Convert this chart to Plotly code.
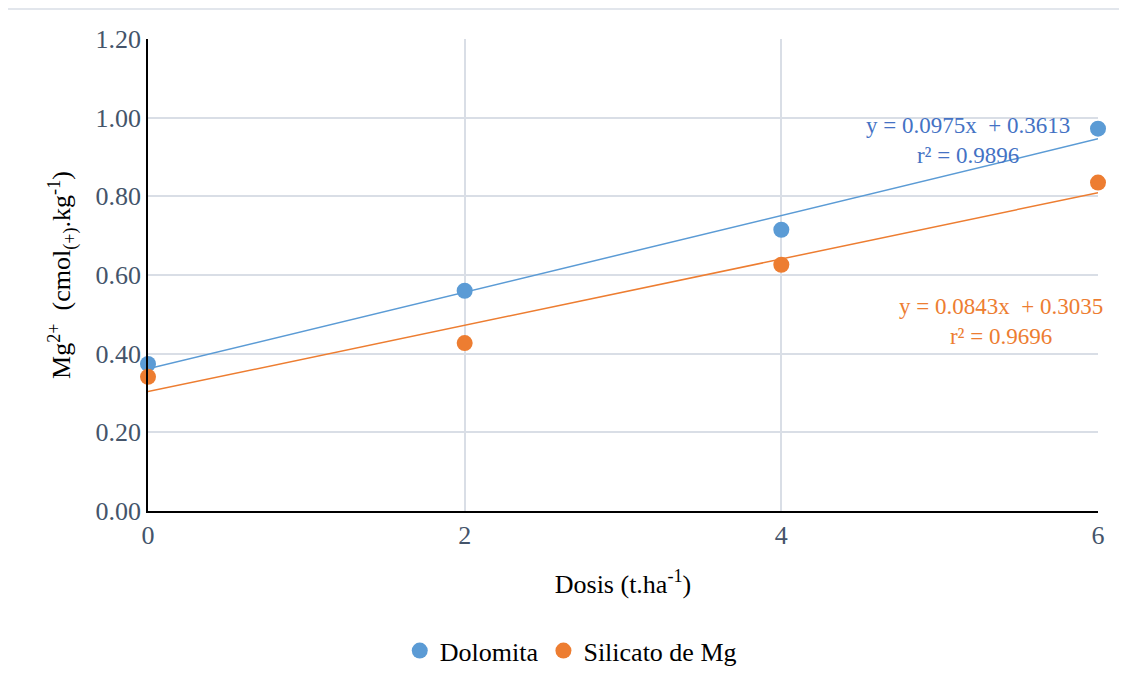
import plotly.graph_objects as go
import numpy as np

doses = [0, 2, 4, 6]
dolomita = [0.374, 0.560, 0.715, 0.972]
silicato = [0.341, 0.427, 0.626, 0.835]
series_names = ["Dolomita", "Silicato de Mg"]
slopes = [0.0975, 0.0843]
intercepts = [0.3613, 0.3035]
r2_values = [0.9896, 0.9696]
y_ticks = [0.0, 0.2, 0.4, 0.6, 0.8, 1.0, 1.2]
x_ticks = [0, 2, 4, 6]

colors = ["#5b9bd5", "#ed7d31"]
text_colors = ["#4472c4", "#ed7d31"]
font_family = "Liberation Serif"

fig = go.Figure()
for name, vals, col, m, b in zip(series_names, [dolomita, silicato], colors, slopes, intercepts):
    xs = np.array([doses[0], doses[-1]], dtype=float)
    fig.add_trace(go.Scatter(x=xs, y=m * xs + b, mode="lines",
                             line=dict(color=col, width=1.5), showlegend=False, hoverinfo="skip"))
for name, vals, col in zip(series_names, [dolomita, silicato], colors):
    fig.add_trace(go.Scatter(x=doses, y=vals, mode="markers", name=name,
                             marker=dict(color=col, size=16), cliponaxis=False))

# equation annotations
ann_pos = [(5.18, 0.941), (5.39, 0.483)]
for i in range(2):
    ax, ay = ann_pos[i]
    fig.add_annotation(x=ax, y=ay, xref="x", yref="y", xanchor="center", yanchor="middle",
                       text=f"y = {slopes[i]:.4f}x  + {intercepts[i]:.4f}<br>r² = {r2_values[i]:.4f}",
                       showarrow=False, align="center",
                       font=dict(color=text_colors[i], size=23, family=font_family))

fig.update_layout(
    width=1127, height=684,
    paper_bgcolor="white", plot_bgcolor="white",
    margin=dict(l=140, r=37, t=31, b=181, autoexpand=False),
    font=dict(family=font_family, size=26, color="#44546a"),
    showlegend=True,
    legend=dict(orientation="h", x=0.445, xanchor="center", y=-0.296, yanchor="middle",
                font=dict(size=26, color="black", family=font_family),
                itemsizing="trace", tracegroupgap=0, itemwidth=30),
    xaxis=dict(range=[0, 6], tickvals=x_ticks, ticktext=[str(v) for v in x_ticks],
               showgrid=True, gridcolor="#d9dee6", gridwidth=1.5, zeroline=False,
               showline=True, linecolor="black", linewidth=1.5, ticks="",
               title=dict(text="Dosis (t.ha<sup>-1</sup>)",
                          font=dict(color="black", size=26, family=font_family), standoff=26),
               tickfont=dict(color="#44546a", size=26, family=font_family)),
    yaxis=dict(range=[0, 1.2], tickvals=y_ticks, ticktext=[f"{v:.2f}" for v in y_ticks],
               showgrid=True, gridcolor="#d9dee6", gridwidth=1.5, zeroline=False,
               showline=True, linecolor="black", linewidth=1.5, ticks="",
               title=dict(text="Mg<sup>2+</sup>  (cmol<sub>(+)</sub>.kg<sup>-1</sup>)",
                          font=dict(color="black", size=26, family=font_family), standoff=17),
               tickfont=dict(color="#44546a", size=26, family=font_family)),
)
fig.add_shape(type="rect", xref="paper", yref="paper", x0=-0.1495, x1=1.06, y0=-0.5, y1=1.0636,
              line=dict(color="#d9dee6", width=1.5), fillcolor="rgba(0,0,0,0)", layer="below")

fig.write_html("out.html")
